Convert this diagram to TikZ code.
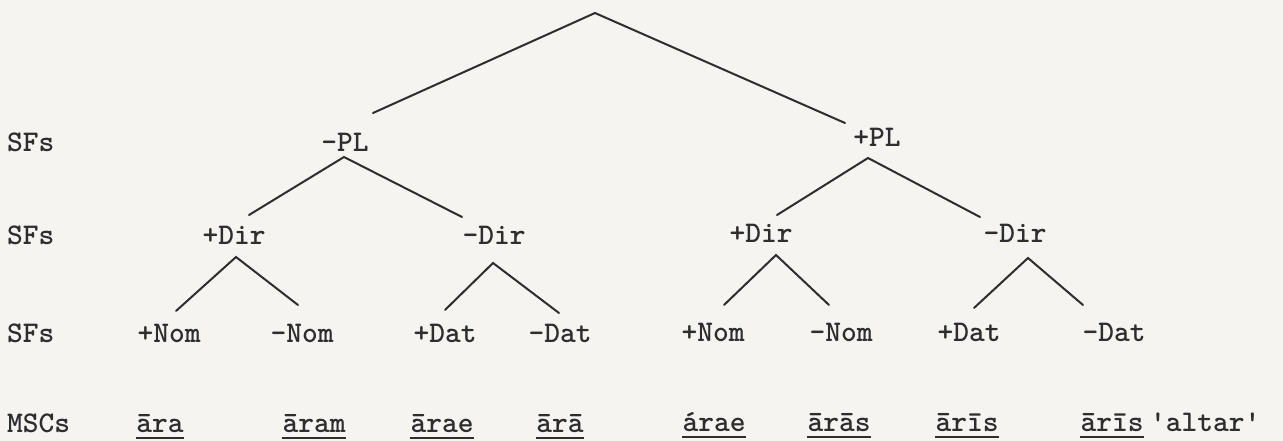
\documentclass[tikz,border=0pt]{standalone}
\usepackage{fontspec}
\definecolor{ink}{HTML}{2E2E2E}
\definecolor{paper}{HTML}{F5F4F1}
\newcommand{\twfont}{\ttfamily\bfseries\fontsize{30}{36}\selectfont}
\begin{document}
\begin{tikzpicture}[x=1pt,y=-1pt,
  lbl/.style={font=\twfont, text=ink, inner sep=0pt, anchor=base},
  rowlbl/.style={lbl, anchor=base west},
  edge/.style={draw=ink, line width=2pt, line cap=round},
  uline/.style={draw=ink, line width=2.4pt}]
\fill[paper] (0,0) rectangle (1283,441);
\useasboundingbox (0,0) rectangle (1283,441);

% row labels
\node[rowlbl] (sf1) at (7,152) {SFs};
\node[rowlbl] (sf2) at (7,244) {SFs};
\node[rowlbl] (sf3) at (7,342) {SFs};
\node[rowlbl] (msc) at (7,432) {MSCs};

% level 1
\node[lbl] (plm) at (345,152) {-PL};
\node[lbl] (plp) at (877,147) {+PL};
% level 2
\node[lbl] (dirpL) at (234,244) {+Dir};
\node[lbl] (dirmL) at (494,244) {-Dir};
\node[lbl] (dirpR) at (761,242) {+Dir};
\node[lbl] (dirmR) at (1015,242) {-Dir};
% level 3
\node[lbl] (n1) at (169,342) {+Nom};
\node[lbl] (n2) at (302,342) {-Nom};
\node[lbl] (n3) at (445,342) {+Dat};
\node[lbl] (n4) at (560,342) {-Dat};
\node[lbl] (n5) at (713,341) {+Nom};
\node[lbl] (n6) at (841,341) {-Nom};
\node[lbl] (n7) at (969,341) {+Dat};
\node[lbl] (n8) at (1114,341) {-Dat};
% level 4
\node[lbl] (m1) at (160,432) {āra};
\node[lbl] (m2) at (314,432) {āram};
\node[lbl] (m3) at (442,432) {ārae};
\node[lbl] (m4) at (560,432) {ārā};
\node[lbl] (m5) at (714,431) {árae};
\node[lbl] (m6) at (839,431) {ārās};
\node[lbl] (m7) at (967,431) {ārīs};
\node[lbl] (m8) at (1112,431) {ārīs};
\node[lbl, anchor=base west] (gloss) at (1150,431) {'altar'};

\foreach \m in {m1,m2,m3,m4,m5,m6,m7,m8}
  \draw[uline] ([yshift=-6pt]\m.base west) -- ([yshift=-6pt]\m.base east);

% branch points
\coordinate (root) at (595,13);
\coordinate (plm-top) at (373,113);
\coordinate (plp-top) at (845,123);
\coordinate (plm-ap) at (344,157);
\coordinate (plp-ap) at (868,158);
\coordinate (dirpL-top) at (249,215);
\coordinate (dirmL-top) at (462,217);
\coordinate (dirpR-top) at (777,215);
\coordinate (dirmR-top) at (980,217);
\coordinate (dirpL-ap) at (236,257);
\coordinate (dirmL-ap) at (493,263);
\coordinate (dirpR-ap) at (776,255);
\coordinate (dirmR-ap) at (1028,258);
\coordinate (n1-top) at (176,311);
\coordinate (n2-top) at (298,305);
\coordinate (n3-top) at (445,310);
\coordinate (n4-top) at (559,313);
\coordinate (n5-top) at (724,305);
\coordinate (n6-top) at (829,305);
\coordinate (n7-top) at (974,308);
\coordinate (n8-top) at (1083,305);

\draw[edge] (plm-top) -- (root) -- (plp-top);
\draw[edge] (dirpL-top) -- (plm-ap) -- (dirmL-top);
\draw[edge] (dirpR-top) -- (plp-ap) -- (dirmR-top);
\draw[edge] (n1-top) -- (dirpL-ap) -- (n2-top);
\draw[edge] (n3-top) -- (dirmL-ap) -- (n4-top);
\draw[edge] (n5-top) -- (dirpR-ap) -- (n6-top);
\draw[edge] (n7-top) -- (dirmR-ap) -- (n8-top);
\end{tikzpicture}
\end{document}
